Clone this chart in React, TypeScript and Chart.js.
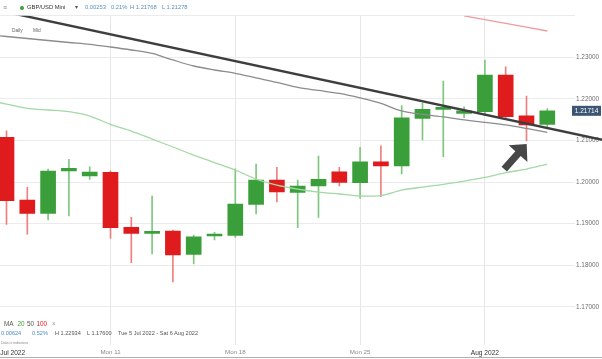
import React, { useEffect, useRef } from "react";
import { Chart, registerables } from "chart.js";

Chart.register(...registerables);

// ---- data ----
const candleDays = ["Tue 5 Jul","Wed 6 Jul","Thu 7 Jul","Fri 8 Jul","Sun 10 Jul","Mon 11 Jul","Tue 12 Jul","Wed 13 Jul","Thu 14 Jul","Fri 15 Jul","Sun 17 Jul","Mon 18 Jul","Tue 19 Jul","Wed 20 Jul","Thu 21 Jul","Fri 22 Jul","Sun 24 Jul","Mon 25 Jul","Tue 26 Jul","Wed 27 Jul","Thu 28 Jul","Fri 29 Jul","Sun 31 Jul","Mon 1 Aug","Tue 2 Aug","Wed 3 Aug","Thu 4 Aug"];
const opens = [1.21077,1.1957,1.1925,1.20267,1.20147,1.20236,1.18913,1.18769,1.18825,1.18264,1.18704,1.18721,1.19466,1.2005,1.19755,1.19906,1.2025,1.19986,1.2049,1.20387,1.21534,1.2175,1.21654,1.21692,1.22575,1.21596,1.21389];
const highs = [1.21233,1.19875,1.20315,1.20548,1.2037,1.20274,1.19154,1.19666,1.18849,1.18729,1.18793,1.20322,1.20435,1.20356,1.2005,1.20627,1.20356,1.20837,1.20875,1.21837,1.21894,1.2243,1.21812,1.22934,1.22774,1.2207,1.21768];
const lows = [1.18986,1.18752,1.19089,1.19185,1.20067,1.18649,1.18062,1.18272,1.176,1.18031,1.18608,1.18673,1.19233,1.19522,1.18904,1.19154,1.19906,1.1961,1.19649,1.20195,1.21012,1.2061,1.21548,1.21637,1.21548,1.20988,1.21278];
const closes = [1.19553,1.1925,1.20267,1.20332,1.20243,1.18904,1.18769,1.18817,1.18248,1.18687,1.18752,1.19474,1.2005,1.19762,1.19906,1.20067,1.19995,1.2049,1.20387,1.21548,1.2175,1.21798,1.21716,1.22575,1.21572,1.21373,1.21714];

// moving averages, starting one session before the first visible candle (index -1)
const ma20 = [1.21975,1.21877,1.21774,1.21733,1.21692,1.21589,1.21389,1.21228,1.21036,1.20844,1.20651,1.20471,1.20291,1.20074,1.1993,1.19834,1.19762,1.19714,1.19666,1.19678,1.1981,1.19882,1.19947,1.20026,1.20115,1.20226,1.20315,1.20435];
const ma50 = [1.23548,1.235,1.23452,1.23404,1.23356,1.23313,1.23248,1.23176,1.23092,1.22936,1.22791,1.22695,1.22616,1.22503,1.22395,1.22275,1.22203,1.22131,1.22023,1.2189,1.2171,1.21626,1.21566,1.21494,1.21434,1.21374,1.2129,1.21198];
const ma100 = [null,null,null,null,null,null,null,null,null,null,null,null,null,null,null,null,null,null,null,null,null,null,null,1.23998,1.23906,1.23815,1.23724,1.23632];

// trend line (two anchor points, index / price)
const trendIdx = [-1, 29];
const trendPrice = [1.24195, 1.2098];

// arrow annotation (index / price)
const arrowFrom = { x: 23.93, y: 1.20312 };
const arrowTo = { x: 25.01, y: 1.20917 };

const yTicks = [1.17, 1.18, 1.19, 1.2, 1.21, 1.22, 1.23, 1.24];
const xTickIdx = [0.3, 5, 11, 17, 23];
const xTickLabels = ["Jul 2022", "Mon 11", "Mon 18", "Mon 25", "Aug 2022"];

const GREEN = "#3a9f3a";
const RED = "#e01b1e";
const GREEN_W = "#7fc77f";
const RED_W = "#ef7f7f";
const FONT = "'Liberation Sans', Arial, sans-serif";

const arrowPlugin = {
  id: "arrowAnn",
  afterDatasetsDraw(chart: any) {
    const { ctx, scales } = chart;
    const x1 = scales.x.getPixelForValue(arrowFrom.x);
    const y1 = scales.y.getPixelForValue(arrowFrom.y);
    const x2 = scales.x.getPixelForValue(arrowTo.x);
    const y2 = scales.y.getPixelForValue(arrowTo.y);
    const dx = x2 - x1, dy = y2 - y1;
    const len = Math.hypot(dx, dy);
    const ux = dx / len, uy = dy / len;
    const nx = -uy, ny = ux;
    const hl = 13, hw = 12.5, sw = 3.6;
    const bx = x2 - ux * hl, by = y2 - uy * hl;
    ctx.save();
    ctx.fillStyle = "#474747";
    ctx.beginPath();
    ctx.moveTo(x1 + nx * sw, y1 + ny * sw);
    ctx.lineTo(bx + nx * sw, by + ny * sw);
    ctx.lineTo(bx + nx * hw, by + ny * hw);
    ctx.lineTo(x2, y2);
    ctx.lineTo(bx - nx * hw, by - ny * hw);
    ctx.lineTo(bx - nx * sw, by - ny * sw);
    ctx.lineTo(x1 - nx * sw, y1 - ny * sw);
    ctx.closePath();
    ctx.fill();

    // last price label
    const last = closes[closes.length - 1];
    const py = scales.y.getPixelForValue(last);
    const left = chart.chartArea.right;
    const right = chart.width - 1;
    ctx.fillStyle = "#3b5573";
    ctx.fillRect(left, py - 5, right - left, 10);
    ctx.fillStyle = "#ffffff";
    ctx.font = `6.5px ${FONT}`;
    ctx.textAlign = "center";
    ctx.textBaseline = "middle";
    ctx.fillText(last.toFixed(5), (left + right) / 2, py + 0.5);
    ctx.restore();
  },
};

export default function App() {
  const ref = useRef<HTMLCanvasElement | null>(null);

  useEffect(() => {
    if (!ref.current) return;
    const idx = closes.map((_, i) => i);
    const isUp = (i: number) => closes[i] >= opens[i];
    const chart = new Chart(ref.current, {
      type: "bar",
      data: {
        datasets: [
          {
            type: "bar",
            label: "wick",
            data: idx.map((i) => ({ x: i, y: [lows[i], highs[i]] })) as any,
            backgroundColor: idx.map((i) => (isUp(i) ? GREEN_W : RED_W)),
            barThickness: 1,
            grouped: false,
            order: 6,
          } as any,
          {
            type: "bar",
            label: "body",
            data: idx.map((i) => ({ x: i, y: [opens[i], closes[i]] })) as any,
            backgroundColor: idx.map((i) => (isUp(i) ? GREEN : RED)),
            barThickness: 15,
            grouped: false,
            borderWidth: 0,
            order: 5,
          } as any,
          {
            type: "line",
            label: "MA20",
            data: ma20.map((v, k) => ({ x: k - 1, y: v })),
            borderColor: "#a3d9a3",
            borderWidth: 1.3,
            pointRadius: 0,
            tension: 0.3,
            order: 4,
          } as any,
          {
            type: "line",
            label: "MA50",
            data: ma50.map((v, k) => ({ x: k - 1, y: v })),
            borderColor: "#8c8c8c",
            borderWidth: 1.3,
            pointRadius: 0,
            tension: 0.3,
            order: 3,
          } as any,
          {
            type: "line",
            label: "MA100",
            data: ma100.map((v, k) => ({ x: k - 1, y: v })),
            borderColor: "#f29a9a",
            borderWidth: 1.3,
            pointRadius: 0,
            clip: 0,
            order: 2,
          } as any,
          {
            type: "line",
            label: "trend",
            data: trendIdx.map((x, k) => ({ x, y: trendPrice[k] })),
            borderColor: "#3e3e3e",
            borderWidth: 2.4,
            pointRadius: 0,
            clip: { left: 0, top: 0, right: 40, bottom: 0 },
            order: 1,
          } as any,
        ],
      },
      options: {
        animation: false,
        responsive: false,
        devicePixelRatio: 1,
        layout: { padding: { top: 15.7, left: 0, right: 0, bottom: 0 }, autoPadding: false } as any,
        plugins: { legend: { display: false }, tooltip: { enabled: false } },
        scales: {
          x: {
            type: "linear",
            min: -0.3125,
            max: 27.1875,
            offset: false,
            afterBuildTicks: (s: any) => {
              s.ticks = xTickIdx.map((v) => ({ value: v }));
            },
            afterFit: (s: any) => {
              s.height = 14.2;
              s.paddingLeft = 0;
              s.paddingRight = 0;
            },
            ticks: {
              autoSkip: false,
              maxRotation: 0,
              padding: 4,
              callback: (_v: any, i: number) => xTickLabels[i],
              color: (c: any) => (c.index === 0 || c.index === 4 ? "#333" : "#8a8a8a"),
              font: (c: any) => ({ family: FONT, size: c.index === 0 || c.index === 4 ? 6.6 : 6.2 }),
            },
            grid: {
              offset: false,
              color: (c: any) => (c.index === 0 ? "rgba(0,0,0,0)" : "#e6e6e6"),
              drawTicks: false,
            },
            border: { display: false },
          },
          y: {
            type: "linear",
            position: "right",
            min: 1.1609,
            max: 1.24,
            afterBuildTicks: (s: any) => {
              s.ticks = yTicks.map((v) => ({ value: v }));
            },
            afterFit: (s: any) => {
              s.width = 30;
              s.paddingTop = 0;
              s.paddingBottom = 0;
            },
            ticks: {
              padding: 1,
              color: "#6e6e6e",
              font: { family: FONT, size: 6.4 },
              callback: (v: any) => (v >= 1.2399 ? "" : Number(v).toFixed(5)),
            },
            grid: { color: "#ebebeb", tickLength: 3 },
            border: { display: false },
          },
        },
      } as any,
      plugins: [arrowPlugin],
    });
    return () => chart.destroy();
  }, []);

  const abs = (left: number, top: number, size: number, color: string, extra: any = {}) => ({
    position: "absolute" as const,
    left,
    top,
    fontSize: size,
    lineHeight: 1,
    color,
    fontFamily: FONT,
    whiteSpace: "nowrap" as const,
    ...extra,
  });

  return (
    <div style={{ position: "fixed", left: 0, top: 0, width: 602, height: 359, background: "#fff", overflow: "hidden" }}>
      <canvas ref={ref} width={602} height={359} style={{ display: "block", width: 602, height: 359 }} />
      {/* header */}
      <span style={abs(3, 3.5, 7, "#8a8a8a")}>≡</span>
      <span style={{ position: "absolute", left: 19.5, top: 5.5, width: 4, height: 4, borderRadius: 2, background: GREEN }} />
      <span style={abs(27, 4.5, 5.8, "#333")}>GBP/USD Mini</span>
      <span style={abs(75, 4.5, 5.8, "#555")}>▾</span>
      <span style={abs(85, 4.5, 5.8, "#5b8fbd")}>0.00253</span>
      <span style={abs(111, 4.5, 5.8, "#5b8fbd")}>0.21%</span>
      <span style={abs(130, 4.5, 5.8, "#5b8fbd")}>H 1.21768</span>
      <span style={abs(162, 4.5, 5.8, "#5b8fbd")}>L 1.21278</span>
      <span style={abs(12, 29, 4.8, "#666")}>Daily</span>
      <span style={abs(33, 29, 4.8, "#666")}>Mid</span>
      {/* footer legend */}
      <span style={abs(4, 321, 6.4, "#555")}>MA</span>
      <span style={abs(17.5, 321, 6.4, GREEN)}>20</span>
      <span style={abs(27, 321, 6.4, "#555")}>50</span>
      <span style={abs(36.5, 321, 6.4, RED)}>100</span>
      <span style={abs(52, 321, 6.4, "#999")}>×</span>
      <span style={abs(1, 331.3, 5.6, "#4a8cc4")}>0.00624</span>
      <span style={abs(32, 331.3, 5.6, "#4a8cc4")}>0.52%</span>
      <span style={abs(55, 331.3, 5.6, "#555")}>H 1.22934</span>
      <span style={abs(87, 331.3, 5.6, "#555")}>L 1.17600</span>
      <span style={abs(118, 331.3, 5.6, "#555")}>Tue 5 Jul 2022 - Sat 6 Aug 2022</span>
      <span style={abs(1, 341.8, 3.6, "#888")}>Data is indicative</span>
      <div style={{ position: "absolute", left: 0, top: 357, width: 602, height: 1, background: "#b0b0b0" }} />
    </div>
  );
}
